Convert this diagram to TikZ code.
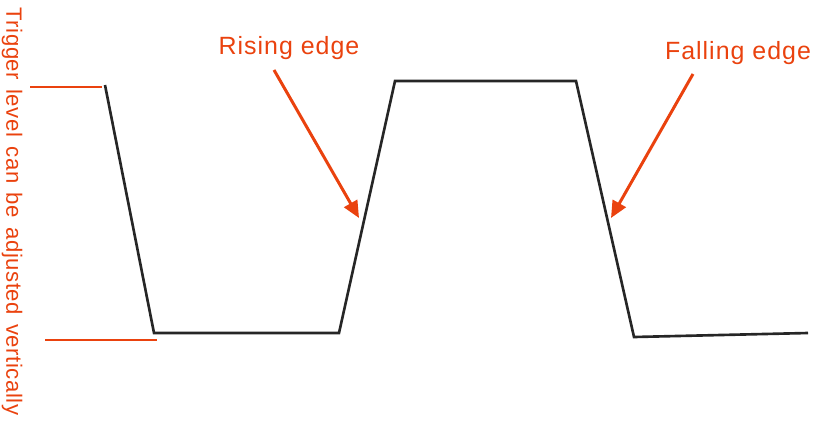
\documentclass[tikz,border=0pt]{standalone}
\usepackage{fontspec}
\setmainfont{Liberation Sans}
\newfontfamily\trigfont[LetterSpace=2.5,WordSpace=1.4]{Liberation Sans}
\newfontfamily\edgefont[LetterSpace=4]{Liberation Sans}
\usepackage{xcolor}
\usetikzlibrary{arrows.meta,positioning,calc}
\definecolor{trigred}{RGB}{234,66,14}

\begin{document}
\begin{tikzpicture}[
  x=0.02cm, y=-0.02cm,
  wave/.style={draw=black!85, line width=1.5pt, line join=miter},
  level/.style={draw=trigred, line width=1.3pt},
  label/.style={text=trigred, font=\edgefont\fontsize{14.2pt}{16pt}\selectfont, inner sep=0pt},
  arrow/.style={draw=trigred, line width=1.7pt,
    -{Triangle[length=9.6pt, width=8.4pt]}}
]
  \useasboundingbox (0,0) rectangle (817,420);

  % waveform corners
  \coordinate (w1) at (105,85);
  \coordinate (w2) at (154,333);
  \coordinate (w3) at (339,333);
  \coordinate (w4) at (395,81);
  \coordinate (w5) at (576,81);
  \coordinate (w6) at (634,337);
  \coordinate (w7) at (808,333);
  \draw[wave] (w1) -- (w2) -- (w3) -- (w4) -- (w5) -- (w6) -- (w7);

  % trigger level marks
  \coordinate (hiL) at (30,87);
  \coordinate (hiR) at (102,87);
  \coordinate (loL) at (45,340);
  \coordinate (loR) at (157,340);
  \draw[level] (hiL) -- (hiR);
  \draw[level] (loL) -- (loR);

  \node[text=trigred, font=\trigfont\fontsize{12.6pt}{14pt}\selectfont,
    rotate=-90, inner sep=0pt] (trig) at (12,211.5)
    {Trigger level can be adjusted vertically};

  % edge labels
  \node[label] (rise) at (289,48) {Rising edge};
  \node[label] (fall) at (738,53) {Falling edge};

  \coordinate (risetip) at (359,218);
  \coordinate (falltip) at (611,218);
  \draw[arrow] ($(rise.south)+(-15,10)$) -- (risetip);
  \draw[arrow] ($(fall.south)+(-45,9)$) -- (falltip);
\end{tikzpicture}
\end{document}
